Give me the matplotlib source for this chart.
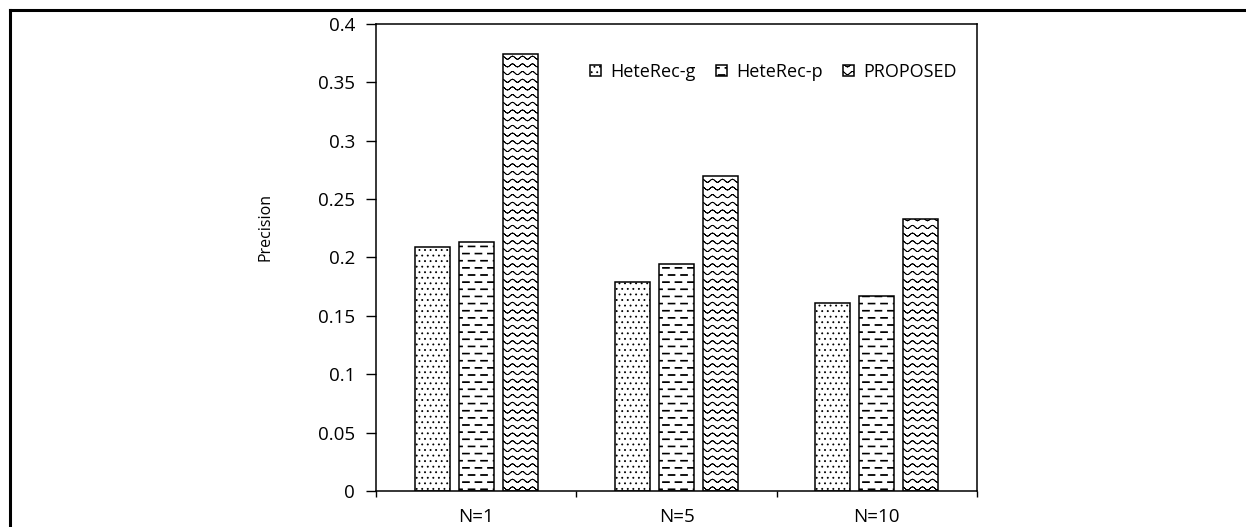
import warnings
import numpy as np
import matplotlib
matplotlib.use("Agg")
import matplotlib.pyplot as plt
from matplotlib import hatch as mhatch
from matplotlib.path import Path
from matplotlib.lines import Line2D

# custom hatch letters ('d', 'w') are not in matplotlib's whitelist -> silence that warning
warnings.filterwarnings("ignore", category=matplotlib.MatplotlibDeprecationWarning)

# --- data ---
categories = ["N=1", "N=5", "N=10"]
series_names = ["HeteRec-g", "HeteRec-p", "PROPOSED"]
heterec_g = [0.209, 0.179, 0.161]
heterec_p = [0.213, 0.194, 0.167]
proposed = [0.374, 0.270, 0.233]
yticks = [0, 0.05, 0.1, 0.15, 0.2, 0.25, 0.3, 0.35, 0.4]
ytick_labels = ["0", "0.05", "0.1", "0.15", "0.2", "0.25", "0.3", "0.35", "0.4"]


# --- Excel-like fill patterns as extra hatch types ---
class DashHatch(mhatch.HatchPatternBase):
    """'d': staggered short horizontal dashes"""
    rows, per_row = 14, 8

    def __init__(self, hatch, density):
        n = self.rows * self.per_row if "d" in hatch else 0
        self.num_vertices = n * 5

    def set_vertices_and_codes(self, vertices, codes):
        dx = 1.0 / self.per_row
        h = 0.004
        k = 0
        for r in range(self.rows):
            y = (r + 0.5) / self.rows
            shift = 0.45 * dx if r % 2 else 0.0
            for c in range(self.per_row):
                x0 = c * dx + shift
                x1 = x0 + 0.55 * dx
                vertices[k:k + 5] = [[x0, y - h], [x1, y - h], [x1, y + h],
                                     [x0, y + h], [x0, y - h]]
                codes[k:k + 5] = [Path.MOVETO, Path.LINETO, Path.LINETO,
                                  Path.LINETO, Path.CLOSEPOLY]
                k += 5


class WaveHatch(mhatch.HatchPatternBase):
    """'w': rows of small waves"""
    rows, periods, per_period = 13, 10, 8

    def __init__(self, hatch, density):
        self.pts = self.periods * self.per_period + 1
        self.num_vertices = self.rows * self.pts * 2 if "w" in hatch else 0

    def set_vertices_and_codes(self, vertices, codes):
        xs = np.linspace(0, 1, self.pts)
        wave = 0.016 * np.sin(2 * np.pi * self.periods * xs)
        n = self.pts * 2
        for r in range(self.rows):
            y = (r + 0.5) / self.rows + wave
            # go out and come back on the same curve so the fill pass covers nothing
            seg = vertices[r * n:(r + 1) * n]
            seg[:, 0] = np.concatenate([xs, xs[::-1]])
            seg[:, 1] = np.concatenate([y, y[::-1]])
            codes[r * n:(r + 1) * n] = Path.LINETO
            codes[r * n] = Path.MOVETO


mhatch._hatch_types.extend([DashHatch, WaveHatch])

plt.rcParams["font.family"] = ["Open Sans", "DejaVu Sans"]
plt.rcParams["hatch.linewidth"] = 0.6
FS = 13.5

fig = plt.figure(figsize=(12.46, 5.27), dpi=100)
ax = fig.add_axes([0.3018, 0.0683, 0.4823, 0.8862])

x = np.arange(len(categories)) + 0.5
width = 0.175
step = 0.22
hatches = ["...", "d", "w"]
for i, (name, vals) in enumerate(zip(series_names, [heterec_g, heterec_p, proposed])):
    ax.bar(x + (i - 1) * step, vals, width, label=name, facecolor="white",
           edgecolor="black", linewidth=1.1, hatch=hatches[i])

ax.set_xlim(0, 3)
ax.set_ylim(0, 0.4)
ax.set_yticks(yticks)
ax.set_yticklabels(ytick_labels)
ax.set_ylabel("Precision", fontsize=11.5)
ax.yaxis.set_label_coords(-0.171, 0.565)

# ticks at category boundaries, labels in the middle
ax.set_xticks([0, 1, 2, 3])
ax.set_xticklabels([])
ax.set_xticks(x, minor=True)
ax.set_xticklabels(categories, minor=True)
ax.tick_params(axis="x", which="major", length=4.5, width=1, direction="out")
ax.tick_params(axis="x", which="minor", length=0, pad=12, labelsize=FS)
ax.tick_params(axis="y", length=7, width=1, direction="out", pad=8, labelsize=FS)

for sp in ax.spines.values():
    sp.set_linewidth(1.1)
    sp.set_color("black")

ax.legend(loc="center left", bbox_to_anchor=(590 / 1246, 1 - 72 / 527),
          bbox_transform=fig.transFigure, ncol=3, frameon=False, fontsize=13,
          handlelength=0.6, handleheight=0.6, handletextpad=0.5,
          columnspacing=1.15, borderpad=0, borderaxespad=0)

# outer frame (top and left edges of the cropped figure)
fig.add_artist(Line2D([10 / 1246, 1], [1 - 10 / 527, 1 - 10 / 527],
                      transform=fig.transFigure, color="black", linewidth=2.2))
fig.add_artist(Line2D([10 / 1246, 10 / 1246], [0, 1 - 10 / 527],
                      transform=fig.transFigure, color="black", linewidth=2.2))

fig.savefig("out.png", dpi=100)
